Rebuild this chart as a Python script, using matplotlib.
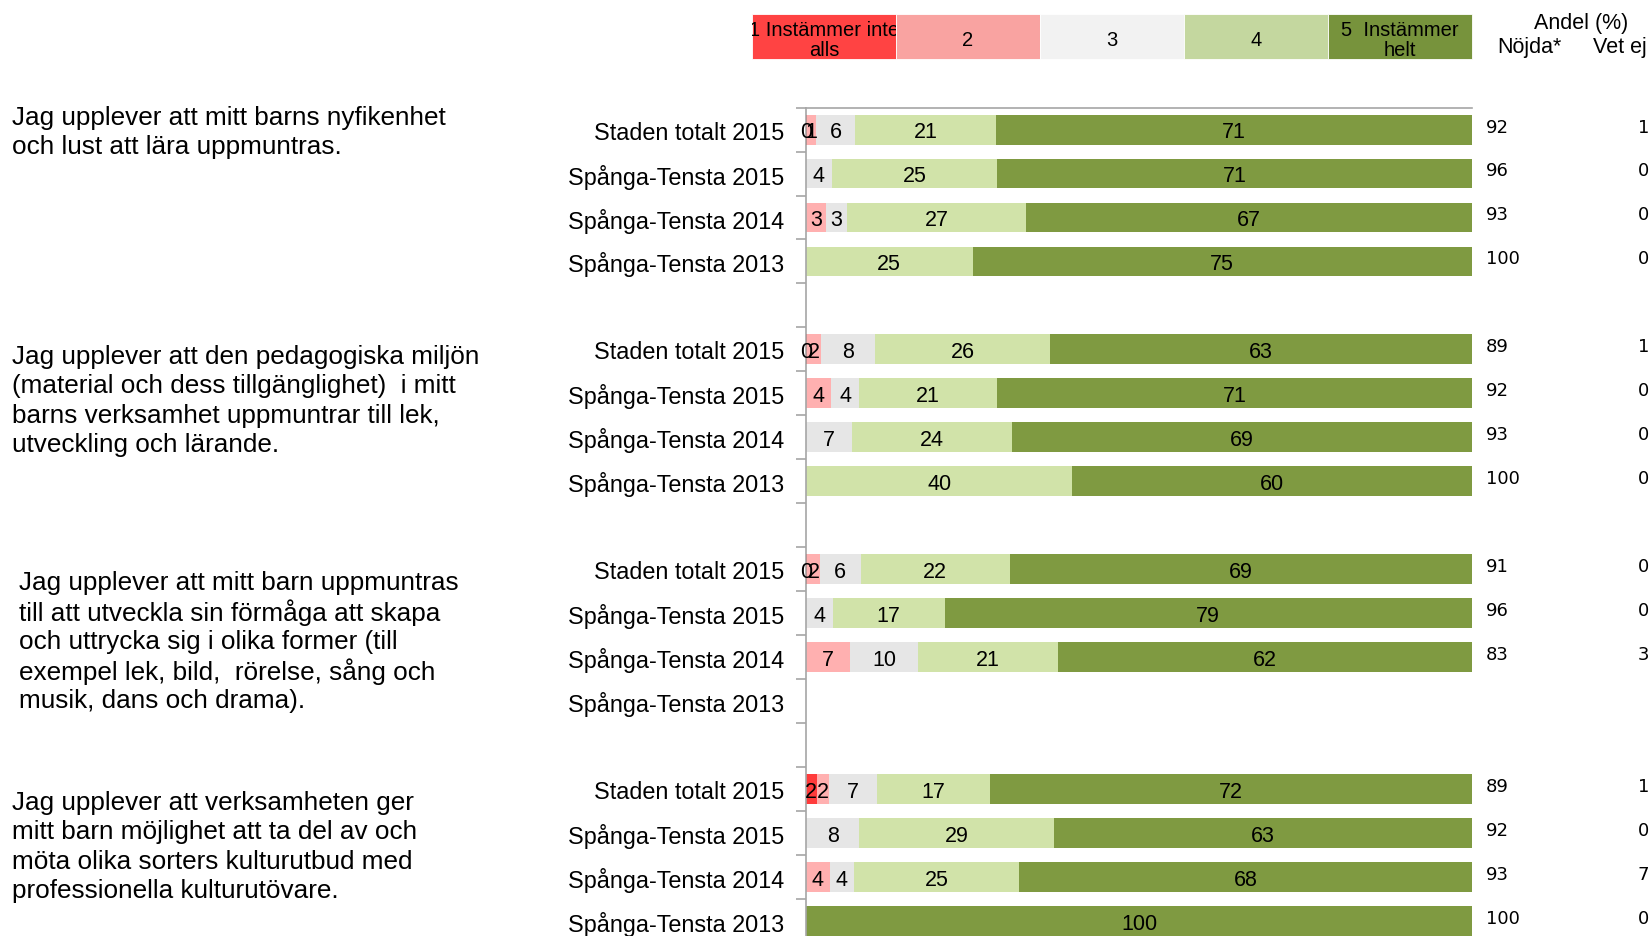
import matplotlib.pyplot as plt
from matplotlib.patches import Rectangle

plt.rcParams['font.family'] = ['Liberation Sans', 'DejaVu Sans']

# svarsalternativ (legend)
levels = ['1 Instämmer inte\nalls', '2', '3', '4', '5  Instämmer\nhelt']
bar_colors = ['#FF3B3B', '#FFB0B0', '#E6E6E6', '#D1E3A9', '#7F9A41']
legend_colors = ['#FF4343', '#F9A3A1', '#F2F2F2', '#C4D79F', '#77933C']

questions = [
    ['Jag upplever att mitt barns nyfikenhet',
     'och lust att lära uppmuntras.'],
    ['Jag upplever att den pedagogiska miljön',
     '(material och dess tillgänglighet)  i mitt',
     'barns verksamhet uppmuntrar till lek,',
     'utveckling och lärande.'],
    ['Jag upplever att mitt barn uppmuntras',
     'till att utveckla sin förmåga att skapa',
     'och uttrycka sig i olika former (till',
     'exempel lek, bild,  rörelse, sång och',
     'musik, dans och drama).'],
    ['Jag upplever att verksamheten ger',
     'mitt barn möjlighet att ta del av och',
     'möta olika sorters kulturutbud med',
     'professionella kulturutövare.'],
]
row_names = ['Staden totalt 2015', 'Spånga-Tensta 2015',
             'Spånga-Tensta 2014', 'Spånga-Tensta 2013']

# andel (%) per svarsalternativ, 4 frågor x 4 rader
lvl1 = [0.2, 0, 0, 0,   0.2, 0, 0, 0,    0.2, 0, 0, 0,      1.6, 0, 0, 0]
lvl2 = [1.3, 0, 3.0, 0, 2.0, 3.8, 0, 0,  1.9, 0, 6.6, 0,    1.8, 0, 3.6, 0]
lvl3 = [5.9, 3.9, 3.2, 0, 8.2, 4.2, 6.9, 0, 6.1, 4.0, 10.2, 0, 7.2, 8.0, 3.6, 0]
lvl4 = [21.2, 24.8, 26.8, 25, 26.2, 20.7, 24.1, 40, 22.4, 16.8, 21.0, 0, 17.0, 29.2, 24.8, 0]
lvl5 = [71.4, 71.3, 67.0, 75, 63.4, 71.3, 69.0, 60, 69.4, 79.2, 62.2, 0, 72.4, 62.8, 68.0, 100]
nojda = [92, 96, 93, 100, 89, 92, 93, 100, 91, 96, 83, None, 89, 92, 93, 100]
vet_ej = [1, 0, 0, 0, 1, 0, 0, 0, 0, 0, 3, None, 1, 0, 7, 0]

W, H = 1652, 937
fig = plt.figure(figsize=(W / 100, H / 100), dpi=100)


def fx(px):
    return px / W


def fy(py):
    return 1 - py / H


ax = fig.add_axes([fx(806), fy(943.9), fx(1472) - fx(806), fy(108.6) - fy(943.9)])

n_groups, n_rows = len(questions), len(row_names)
ypos = [g * (n_rows + 1) + r for g in range(n_groups) for r in range(n_rows)]
labels_y = [row_names[r] for g in range(n_groups) for r in range(n_rows)]

series = [lvl1, lvl2, lvl3, lvl4, lvl5]
left = [0.0] * len(ypos)
for vals, col in zip(series, bar_colors):
    ax.barh(ypos, vals, left=left, height=0.68, color=col, linewidth=0)
    for y, l, v in zip(ypos, left, vals):
        if v > 0:
            ax.text(l + v / 2, y + 0.05, f'{round(v)}', ha='center', va='center',
                    fontsize=15.5, color='black')
    left = [a + b for a, b in zip(left, vals)]

n_slots = n_groups * (n_rows + 1) - 1
ax.set_ylim(n_slots - 0.5, -0.5)
ax.set_xlim(0, 100)
ax.set_xticks([])
ax.set_yticks([i - 0.5 for i in range(n_slots + 1)])
ax.set_yticklabels([])
ax.set_yticks(ypos, labels_y, minor=True)
ax.tick_params(axis='y', which='major', length=7, width=1.2, color='#A6A6A6')
ax.tick_params(axis='y', which='minor', length=0, pad=16, labelsize=16.8)
for s in ['right', 'bottom']:
    ax.spines[s].set_visible(False)
for s in ['left', 'top']:
    ax.spines[s].set_color('#A6A6A6')
    ax.spines[s].set_linewidth(1.2)

# Nöjda / Vet ej kolumner
tr = ax.get_yaxis_transform()
for y, n, v in zip(ypos, nojda, vet_ej):
    if n is not None:
        ax.text(1.021, y - 0.07, str(n), transform=tr, ha='left', va='center',
                fontsize=13, family='DejaVu Sans', clip_on=False)
    if v is not None:
        ax.text(1.249, y - 0.07, str(v), transform=tr, ha='left', va='center',
                fontsize=13, family='DejaVu Sans', clip_on=False)

fig.text(fx(1581), fy(24), 'Andel (%)', ha='center', va='center', fontsize=15.5)
fig.text(fx(1529), fy(48), 'Nöjda*', ha='center', va='center', fontsize=15.5)
fig.text(fx(1620), fy(48), 'Vet ej', ha='center', va='center', fontsize=15.5)

# legend
box_w = 144
for i, (lab, col) in enumerate(zip(levels, legend_colors)):
    x0 = 752 + i * box_w
    rect = Rectangle((fx(x0), fy(60)), fx(box_w), fy(15) - fy(60),
                     transform=fig.transFigure, facecolor=col,
                     edgecolor='white', linewidth=0.6)
    fig.add_artist(rect)
    t = fig.text(fx(x0 + box_w / 2), fy(40.5), lab, ha='center', va='center',
                 fontsize=14.5, linespacing=1.0)
    t.set_clip_path(rect)

# frågetexter
q_pos = [(12, 118), (12, 357), (19, 583), (12, 803)]
for lines, (x, y0) in zip(questions, q_pos):
    for k, line in enumerate(lines):
        fig.text(fx(x), fy(y0 + k * 29.4), line, ha='left', va='center',
                 fontsize=18.8)

fig.savefig('out.png', dpi=100)
